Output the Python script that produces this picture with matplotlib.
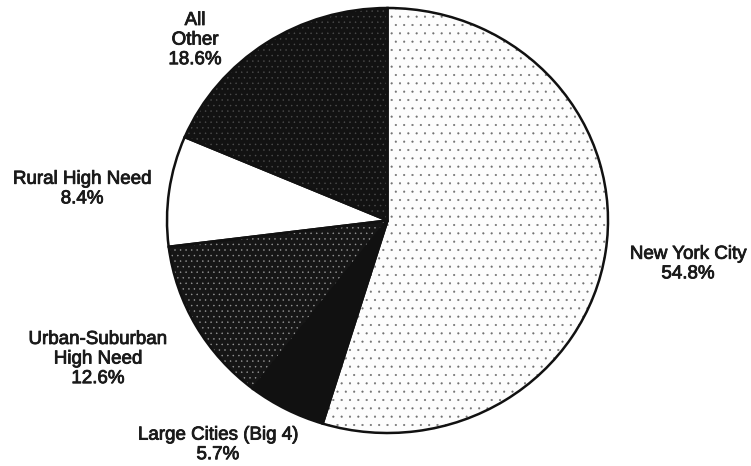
import matplotlib.pyplot as plt
import matplotlib.patheffects as pe

# share of total, clockwise from 12 o'clock
regions = ['New York City', 'Large Cities (Big 4)', 'Urban-Suburban\nHigh Need',
           'Rural High Need', 'All\nOther']
shares = [54.8, 5.7, 12.6, 8.4, 18.6]

fills = ['#fdfdfd', '#111111', '#161616', '#ffffff', '#121212']
speckle = ['#707070', '#111111', '#9a9a9a', '#ffffff', '#4e4e4e']
hatches = ['..', '', '...', '', '...']
label_xy = [(1.363, -0.205), (-0.769, -1.056), (-1.313, -0.652),
            (-1.385, 0.148), (-0.873, 0.849)]

plt.rcParams['hatch.linewidth'] = 0.3
plt.rcParams['font.family'] = ['Liberation Sans', 'DejaVu Sans']

fig = plt.figure(figsize=(7.51, 4.66), dpi=100)
ax = fig.add_axes([167 / 751, 33 / 466, 441 / 751, 425 / 466])

wedges, _ = ax.pie(shares, startangle=90, counterclock=False, colors=fills,
                   radius=1, frame=False)
for w, c, h in zip(wedges, speckle, hatches):
    w.set_edgecolor(c)
    w.set_hatch(h)
    w.set_linewidth(0)

# outlines on top
ax.pie(shares, startangle=90, counterclock=False, radius=1, frame=False,
       wedgeprops={'fill': False, 'edgecolor': '#111111', 'linewidth': 1.8})

for name, v, (x, y) in zip(regions, shares, label_xy):
    ax.text(x, y, f'{name}\n{v:.1f}%', ha='center', va='center', fontsize=13.5,
            color='#1a1a1a', linespacing=1.2, clip_on=False,
            path_effects=[pe.withStroke(linewidth=0.6, foreground='#1a1a1a')])

ax.set_aspect('auto')
ax.set_xlim(-1, 1)
ax.set_ylim(-1, 1)
ax.axis('off')

fig.savefig('out.png', dpi=100)
